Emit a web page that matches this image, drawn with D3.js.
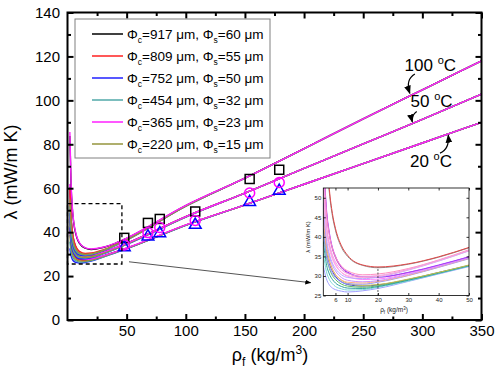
<!DOCTYPE html>
<html><head><meta charset="utf-8">
<script src="https://cdn.jsdelivr.net/npm/d3@7"></script>
<style>body{margin:0;background:#fff}svg{display:block;font-family:Arial,"Liberation Sans",sans-serif}</style>
</head><body><svg id="c" width="500" height="382"></svg>
<script>
// ---------- data ----------
const rhoLow = [2,3,4,5,6,8,10,15,20,30,40,50,100];
const rhoHigh = [150,200,250,300,350];
const phiC = [917,809,752,454,365,220];
const phiS = [60,55,50,32,23,15];
const seriesColors = ["#000000","#ff2020","#2020ff","#50a8a8","#ff20ff","#94943c"];
const tempLabels = ["100","50","20"];
// low-density part, one row per cell size (order of phiC)
const lam100 = [
  [83.8,61.6,51.3,45.4,41.7,37.3,35.0,32.7,32.1,33.0,34.8,37.2,52.1],
  [59.8,46.6,40.6,37.1,35.0,32.5,31.3,30.3,30.5,31.9,34.1,36.7,51.9],
  [48.8,39.7,35.6,33.3,31.9,30.3,29.6,29.3,29.7,31.5,33.8,36.4,51.8],
  [51.8,41.6,37.0,34.3,32.7,30.9,30.1,29.6,29.9,31.6,33.9,36.5,51.8],
  [85.6,62.7,52.1,46.0,42.2,37.7,35.3,32.8,32.3,33.1,34.9,37.3,52.2],
  [54.9,43.6,38.4,35.4,33.6,31.6,30.6,29.9,30.1,31.7,34.0,36.5,51.8]
];
const lam50 = [
  [60.6,46.9,40.6,36.9,34.7,32.1,30.8,29.7,29.7,30.9,32.7,34.9,47.1],
  [54.5,43.1,37.8,34.8,33.0,30.9,29.9,29.1,29.2,30.6,32.6,34.7,47.0],
  [42.2,35.4,32.3,30.6,29.6,28.4,28.0,27.9,28.4,30.1,32.2,34.4,46.9],
  [45.3,37.3,33.7,31.6,30.4,29.0,28.4,28.2,28.6,30.2,32.3,34.5,46.9],
  [61.9,47.6,41.1,37.3,35.1,32.3,31.0,29.8,29.7,30.9,32.8,34.9,47.1],
  [48.4,39.2,35.1,32.7,31.3,29.6,28.9,28.5,28.8,30.4,32.4,34.6,47.0]
];
const lam20 = [
  [44.9,36.9,33.2,31.2,29.9,28.5,27.8,27.4,27.7,29.1,30.9,32.7,43.2],
  [41.8,35.0,31.9,30.1,29.1,27.9,27.4,27.1,27.5,29.0,30.8,32.6,43.2],
  [32.6,29.3,27.7,26.9,26.5,26.1,25.9,26.2,26.8,28.6,30.5,32.4,43.1],
  [35.7,31.2,29.1,28.0,27.3,26.7,26.4,26.5,27.1,28.7,30.6,32.5,43.1],
  [46.7,38.1,34.1,31.8,30.4,28.9,28.1,27.6,27.8,29.2,30.9,32.8,43.3],
  [38.8,33.1,30.5,29.1,28.2,27.3,26.9,26.8,27.3,28.9,30.7,32.6,43.2]
];
// high-density part (all cell sizes coincide)
const high100 = [64.6,78.0,91.6,104.8,118.0];
const high50  = [57.8,69.0,80.2,91.3,102.8];
const high20  = [52.4,61.8,71.2,80.6,90.0];
// measured points
const rhoExp = [48,68,78,108,154,179];
const expSquares = [37.4,44.2,46.0,49.4,64.2,68.4];
const expCircles = [34.2,39.8,42.1,45.3,57.8,62.6];
const expTriangles = [33.1,38.0,39.5,43.3,53.7,58.8];
// inset colours (per temperature, per cell size)
const insetColors = [
  ["#8c8c8c","#ff8fc0","#b8a8ff","#ffb0d8","#e04848","#f0a0e0"],
  ["#c040c0","#ff80ff","#9090ff","#ffb080","#a040ff","#c890ff"],
  ["#4848c0","#60c060","#a0a0ff","#80d8d8","#c0c048","#30a0a0"]
];
const xTicks = [50,100,150,200,250,300,350];
const xMinor = [25,75,125,175,225,275,325];
const yTicks = [0,20,40,60,80,100,120,140];
const yMinor = [10,30,50,70,90,110,130];
const insetXTicks = [6,10,20,30,40,50];
const insetYTicks = [25,30,35,40,45,50];

// ---------- build ----------
const svg = d3.select("#c");
const x = d3.scaleLinear([0,350],[67.5,481.5]);
const y = d3.scaleLinear([0,140],[320,12.5]);
const curves = [];
[lam100,lam50,lam20].forEach((tbl,ti)=>{
  const hi=[high100,high50,high20][ti];
  tbl.forEach((row,si)=>{
    const pts = rhoLow.map((r,i)=>[r,row[i]]).concat(rhoHigh.map((r,i)=>[r,hi[i]]));
    curves.push({ti,si,pts});
  });
});
const drawOrder = [0,1,2,3,5,4];

svg.append("defs").html(`
<clipPath id="mainclip"><rect x="${x(0)}" y="${y(140)}" width="${x(350)-x(0)}" height="${y(0)-y(140)}"/></clipPath>
<clipPath id="insclip"><rect x="323.3" y="188" width="145.7" height="107.5"/></clipPath>
<marker id="ah" viewBox="0 0 10 10" refX="9" refY="5" markerWidth="7" markerHeight="7" orient="auto"><path d="M0,1 L10,5 L0,9 z" fill="#000"/></marker>
<marker id="ah2" viewBox="0 0 10 10" refX="9" refY="5" markerWidth="6" markerHeight="6" orient="auto"><path d="M0,1 L10,5 L0,9 z" fill="#000"/></marker>`);

// main curves
const line = d3.line().x(d=>x(d[0])).y(d=>y(d[1])).curve(d3.curveMonotoneX);
const gC = svg.append("g").attr("clip-path","url(#mainclip)");
[2,1,0].forEach(ti=>{
  drawOrder.forEach(si=>{
    const c = curves.find(k=>k.ti===ti&&k.si===si);
    gC.append("path").attr("d",line(c.pts)).attr("fill","none")
      .attr("stroke",seriesColors[si]).attr("stroke-width",1.4);
  });
});

// markers
const gM = svg.append("g");
rhoExp.forEach((r,i)=>{
  gM.append("rect").attr("x",x(r)-4.5).attr("y",y(expSquares[i])-4.5).attr("width",9).attr("height",9)
    .attr("fill","none").attr("stroke","#000").attr("stroke-width",1.5);
  gM.append("path").attr("d",d3.symbol(d3.symbolTriangle,60)()).attr("transform",`translate(${x(r)},${y(expTriangles[i])})`)
    .attr("fill","none").attr("stroke","#0000ff").attr("stroke-width",1.5);
  gM.append("circle").attr("cx",x(r)).attr("cy",y(expCircles[i])).attr("r",5)
    .attr("fill","none").attr("stroke","#ff00ff").attr("stroke-width",1.5);
});

// dashed zoom rectangle & connector
svg.append("rect").attr("x",x(0)).attr("y",y(53)).attr("width",x(46)-x(0)).attr("height",y(25.5)-y(53))
  .attr("fill","none").attr("stroke","#000").attr("stroke-width",1.3).attr("stroke-dasharray","4,3");
svg.append("line").attr("x1",x(52)).attr("y1",y(26.5)).attr("x2",310.7).attr("y2",282.7)
  .attr("stroke","#555").attr("stroke-width",1).attr("marker-end","url(#ah2)");

// axes
function styleAxis(g){g.select(".domain").remove();g.selectAll(".tick line").attr("stroke","#000").attr("stroke-width",2);
  g.selectAll("text").attr("font-size",15).attr("fill","#000").attr("font-family","Arial, 'Liberation Sans', sans-serif");}
svg.append("g").attr("transform",`translate(0,${y(0)})`).call(d3.axisBottom(x).tickValues(xTicks).tickSize(-6).tickPadding(5)).call(styleAxis);
svg.append("g").attr("transform",`translate(0,${y(0)})`).call(d3.axisBottom(x).tickValues(xMinor).tickSize(-3.5).tickFormat("")).call(styleAxis);
svg.append("g").attr("transform",`translate(0,${y(140)})`).call(d3.axisTop(x).tickValues(xTicks).tickSize(-6).tickFormat("")).call(styleAxis);
svg.append("g").attr("transform",`translate(0,${y(140)})`).call(d3.axisTop(x).tickValues(xMinor).tickSize(-3.5).tickFormat("")).call(styleAxis);
svg.append("g").attr("transform",`translate(${x(0)},0)`).call(d3.axisLeft(y).tickValues(yTicks).tickSize(-6).tickPadding(7.5)).call(styleAxis);
svg.append("g").attr("transform",`translate(${x(0)},0)`).call(d3.axisLeft(y).tickValues(yMinor).tickSize(-3.5).tickFormat("")).call(styleAxis);
svg.append("g").attr("transform",`translate(${x(350)},0)`).call(d3.axisRight(y).tickValues(yTicks).tickSize(-6).tickFormat("")).call(styleAxis);
svg.append("g").attr("transform",`translate(${x(350)},0)`).call(d3.axisRight(y).tickValues(yMinor).tickSize(-3.5).tickFormat("")).call(styleAxis);
svg.append("rect").attr("x",x(0)).attr("y",y(140)).attr("width",x(350)-x(0)).attr("height",y(0)-y(140))
  .attr("fill","none").attr("stroke","#000").attr("stroke-width",2);

// axis titles
const yt = svg.append("text").attr("transform","translate(17,172) rotate(-90)").attr("text-anchor","middle").attr("font-size",18);
yt.text("λ (mW/m K)");
const xt = svg.append("text").attr("x",270).attr("y",361).attr("text-anchor","middle").attr("font-size",18);
xt.append("tspan").text("ρ");
xt.append("tspan").text("f").attr("font-size",12).attr("dy",5);
xt.append("tspan").text(" (kg/m").attr("dy",-5);
xt.append("tspan").text("3").attr("font-size",12).attr("dy",-7);
xt.append("tspan").text(")").attr("dy",7);

// legend
const lg = svg.append("g");
lg.append("rect").attr("x",75).attr("y",19).attr("width",195).attr("height",139).attr("fill","#fff").attr("stroke","#808080").attr("stroke-width",1);
phiC.forEach((c,i)=>{
  const yy = 34 + i*22;
  lg.append("line").attr("x1",92).attr("x2",123).attr("y1",yy).attr("y2",yy).attr("stroke",seriesColors[i]).attr("stroke-width",1.5);
  const t = lg.append("text").attr("x",127).attr("y",yy+5).attr("font-size",13.5);
  t.append("tspan").text("Φ");
  t.append("tspan").text("c").attr("font-size",8.5).attr("dy",4);
  t.append("tspan").text(`=${c} μm, Φ`).attr("dy",-4);
  t.append("tspan").text("s").attr("font-size",8.5).attr("dy",4);
  t.append("tspan").text(`=${phiS[i]} μm`).attr("dy",-4);
});

// temperature annotations (data coordinates)
const annText = [[285,113.5],[290,97],[289.5,69.7]];
const annArrow = [
  [[293.7,112.0],[285.5,109.5],[289.4,103.2]],
  [[295.2,94.9],[290.2,92.9],[291.5,90.2]],
  [[314.9,76.0],[323,77.6],[321.9,84.2]]
];
tempLabels.forEach((tl,i)=>{
  const t = svg.append("text").attr("x",x(annText[i][0])).attr("y",y(annText[i][1])).attr("font-size",17);
  t.append("tspan").text(tl+" ");
  t.append("tspan").text("o").attr("font-size",11).attr("dy",-7);
  t.append("tspan").text("C").attr("dy",7);
  const a = annArrow[i];
  svg.append("path").attr("d",`M${x(a[0][0])},${y(a[0][1])} Q${x(a[1][0])},${y(a[1][1])} ${x(a[2][0])},${y(a[2][1])}`)
    .attr("fill","none").attr("stroke","#000").attr("stroke-width",1.2).attr("marker-end","url(#ah)");
});

// ---------- inset ----------
const ix = d3.scaleLinear([2,50],[323.3,469]);
const iy = d3.scaleLinear([25,52.5],[295.5,188]);
const ig = svg.append("g");
ig.append("rect").attr("x",ix(2)).attr("y",iy(52.5)).attr("width",ix(50)-ix(2)).attr("height",iy(25)-iy(52.5)).attr("fill","#fff");
const iline = d3.line().x(d=>ix(d[0])).y(d=>iy(d[1])).curve(d3.curveMonotoneX);
const igc = ig.append("g").attr("clip-path","url(#insclip)");
[2,1,0].forEach(ti=>{
  [0,1,2,3,5,4].forEach(si=>{
    const c = curves.find(k=>k.ti===ti&&k.si===si);
    igc.append("path").attr("d",iline(c.pts.filter(p=>p[0]<=100))).attr("fill","none")
      .attr("stroke",insetColors[ti][si]).attr("stroke-width",1);
  });
});
ig.append("line").attr("x1",ix(20)).attr("x2",ix(20)).attr("y1",iy(25)).attr("y2",iy(lam100[4][8]))
  .attr("stroke","#333").attr("stroke-width",0.8).attr("stroke-dasharray","2,1.5");
function styleIn(g){g.select(".domain").remove();g.selectAll(".tick line").attr("stroke","#000").attr("stroke-width",0.8);
  g.selectAll("text").attr("font-size",6).attr("fill","#222");}
ig.append("g").attr("transform",`translate(0,${iy(25)})`).call(d3.axisBottom(ix).tickValues(insetXTicks).tickSize(-2.5).tickPadding(2)).call(styleIn);
ig.append("g").attr("transform",`translate(0,${iy(52.5)})`).call(d3.axisTop(ix).tickValues(insetXTicks).tickSize(-2.5).tickFormat("")).call(styleIn);
ig.append("g").attr("transform",`translate(${ix(2)},0)`).call(d3.axisLeft(iy).tickValues(insetYTicks).tickSize(-2.5).tickPadding(2)).call(styleIn);
ig.append("g").attr("transform",`translate(${ix(50)},0)`).call(d3.axisRight(iy).tickValues(insetYTicks).tickSize(-2.5).tickFormat("")).call(styleIn);
ig.append("rect").attr("x",ix(2)).attr("y",iy(52.5)).attr("width",ix(50)-ix(2)).attr("height",iy(25)-iy(52.5))
  .attr("fill","none").attr("stroke","#000").attr("stroke-width",0.8);
ig.append("text").attr("transform",`translate(310,237) rotate(-90)`).attr("text-anchor","middle").attr("font-size",6).attr("fill","#222").text("λ (mW/m K)");
const ixt = ig.append("text").attr("x",394).attr("y",312).attr("text-anchor","middle").attr("font-size",6.5).attr("fill","#222");
ixt.append("tspan").text("ρ");
ixt.append("tspan").text("f").attr("font-size",4.5).attr("dy",1.5);
ixt.append("tspan").text(" (kg/m").attr("dy",-1.5);
ixt.append("tspan").text("3").attr("font-size",4.5).attr("dy",-2.5);
ixt.append("tspan").text(")").attr("dy",2.5);
</script></body></html>
